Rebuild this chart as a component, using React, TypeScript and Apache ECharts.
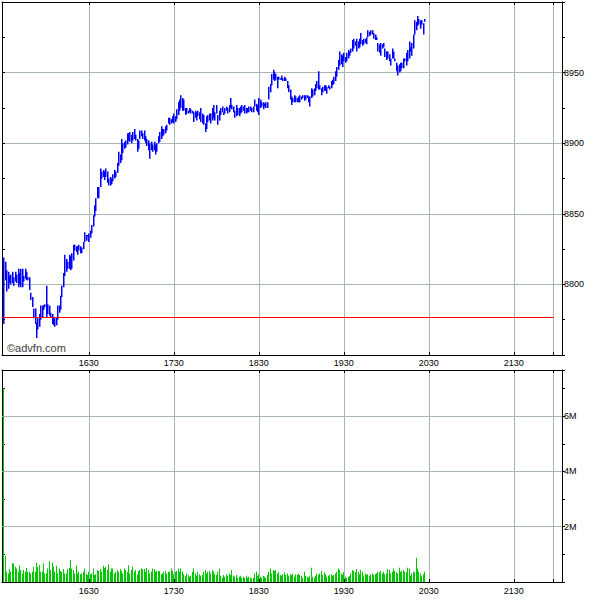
import React, { useEffect, useRef } from 'react';
import * as echarts from 'echarts';

// ---------------- data ----------------
const sessionStart = '1530'; // first bar (one bar per minute)
const xTickLabels = ['1630', '1730', '1830', '1930', '2030', '2130'];
const closeGridTime = '2158'; // unlabeled session-close grid line
const prevClose = 8777;
const priceLabels = [8800, 8850, 8900, 8950];
const volumeLabels = ['2M', '4M', '6M'];

const highs = [
  8819, 8816, 8810, 8809, 8806, 8807, 8809, 8805, 8809, 8807,
  8811, 8808, 8811, 8811, 8806, 8811, 8809, 8805, 8805, 8794,
  8791, 8783, 8783, 8773, 8776, 8779, 8785, 8785, 8785, 8786,
  8799, 8786, 8785, 8780, 8779, 8776, 8776, 8777, 8785, 8785,
  8792, 8799, 8808, 8821, 8818, 8816, 8821, 8820, 8822, 8828,
  8828, 8827, 8827, 8828, 8827, 8826, 8830, 8837, 8835, 8835,
  8836, 8838, 8842, 8849, 8856, 8861, 8869, 8869, 8882, 8880,
  8881, 8880, 8882, 8880, 8875, 8876, 8875, 8878, 8881, 8880,
  8886, 8894, 8892, 8903, 8900, 8901, 8902, 8907, 8907, 8908,
  8906, 8908, 8910, 8906, 8903, 8902, 8909, 8909, 8907, 8909,
  8905, 8903, 8902, 8900, 8901, 8899, 8901, 8899, 8900, 8905,
  8908, 8912, 8910, 8910, 8912, 8913, 8918, 8918, 8917, 8919,
  8921, 8919, 8924, 8929, 8931, 8934, 8932, 8931, 8925, 8925,
  8923, 8925, 8924, 8923, 8922, 8923, 8922, 8923, 8922, 8925,
  8921, 8920, 8914, 8919, 8920, 8921, 8921, 8925, 8927, 8922,
  8927, 8920, 8923, 8925, 8926, 8922, 8925, 8926, 8925, 8927,
  8932, 8927, 8926, 8923, 8927, 8925, 8925, 8926, 8927, 8926,
  8927, 8925, 8925, 8926, 8926, 8925, 8926, 8931, 8928, 8927,
  8932, 8931, 8929, 8929, 8928, 8929, 8929, 8940, 8942, 8949,
  8952, 8950, 8949, 8947, 8947, 8946, 8948, 8946, 8947, 8946,
  8944, 8941, 8938, 8933, 8932, 8934, 8933, 8932, 8933, 8934,
  8933, 8934, 8934, 8934, 8934, 8933, 8933, 8939, 8938, 8939,
  8942, 8944, 8951, 8941, 8939, 8940, 8941, 8941, 8940, 8941,
  8940, 8944, 8945, 8947, 8951, 8954, 8959, 8965, 8963, 8962,
  8964, 8961, 8964, 8966, 8965, 8967, 8973, 8974, 8972, 8974,
  8972, 8974, 8978, 8973, 8974, 8974, 8975, 8980, 8979, 8980,
  8980, 8978, 8977, 8975, 8971, 8970, 8971, 8970, 8971, 8967,
  8965, 8965, 8963, 8960, 8967, 8965, 8960, 8957, 8955, 8956,
  8957, 8957, 8960, 8960, 8964, 8966, 8972, 8968, 8971, 8977,
  8987, 8986, 8990, 8988, 8987, 8987, 8985, 8988,
];

const lows = [
  8772, 8803, 8795, 8797, 8801, 8800, 8801, 8799, 8802, 8801,
  8798, 8800, 8798, 8798, 8802, 8804, 8803, 8803, 8796, 8789,
  8784, 8776, 8772, 8762, 8768, 8770, 8775, 8777, 8782, 8784,
  8777, 8779, 8778, 8777, 8772, 8771, 8770, 8771, 8775, 8780,
  8782, 8791, 8798, 8806, 8809, 8811, 8811, 8810, 8811, 8817,
  8824, 8823, 8821, 8824, 8822, 8822, 8825, 8830, 8831, 8834,
  8830, 8833, 8836, 8841, 8848, 8852, 8861, 8861, 8869, 8875,
  8876, 8874, 8876, 8872, 8870, 8870, 8871, 8873, 8875, 8876,
  8879, 8884, 8886, 8888, 8893, 8896, 8897, 8899, 8902, 8901,
  8900, 8902, 8903, 8902, 8894, 8896, 8903, 8905, 8903, 8902,
  8900, 8898, 8895, 8889, 8895, 8894, 8895, 8892, 8894, 8900,
  8901, 8903, 8905, 8906, 8907, 8909, 8914, 8913, 8914, 8915,
  8914, 8915, 8917, 8920, 8923, 8925, 8923, 8923, 8920, 8921,
  8921, 8922, 8921, 8921, 8915, 8918, 8916, 8919, 8917, 8915,
  8914, 8913, 8908, 8910, 8915, 8916, 8914, 8916, 8918, 8916,
  8921, 8913, 8916, 8920, 8922, 8920, 8921, 8923, 8921, 8922,
  8925, 8924, 8922, 8918, 8919, 8920, 8919, 8921, 8922, 8923,
  8921, 8921, 8922, 8922, 8923, 8922, 8922, 8926, 8923, 8922,
  8920, 8925, 8926, 8924, 8926, 8925, 8925, 8931, 8936, 8941,
  8945, 8944, 8945, 8939, 8945, 8945, 8945, 8944, 8944, 8944,
  8939, 8936, 8931, 8927, 8929, 8929, 8929, 8929, 8929, 8929,
  8931, 8932, 8930, 8931, 8932, 8929, 8926, 8932, 8933, 8934,
  8937, 8939, 8938, 8938, 8934, 8936, 8937, 8937, 8935, 8939,
  8938, 8939, 8941, 8942, 8944, 8947, 8952, 8955, 8956, 8954,
  8958, 8957, 8958, 8960, 8962, 8964, 8965, 8967, 8969, 8965,
  8967, 8968, 8970, 8969, 8970, 8971, 8970, 8975, 8976, 8977,
  8977, 8974, 8973, 8973, 8965, 8964, 8962, 8967, 8968, 8961,
  8959, 8960, 8958, 8955, 8960, 8960, 8958, 8951, 8948, 8950,
  8951, 8953, 8953, 8958, 8955, 8958, 8960, 8965, 8962, 8967,
  8977, 8980, 8983, 8984, 8981, 8984, 8977, 8986,
];

// volume per minute, in millions
const volumesM = [
  7.03, 0.94, 0.37, 0.31, 0.47, 0.37, 0.68, 0.68, 0.55, 0.49,
  0.37, 0.61, 0.43, 0.31, 0.43, 0.37, 0.51, 0.37, 0.37, 0.31,
  0.37, 0.55, 0.37, 0.71, 0.55, 0.61, 0.37, 0.37, 0.68, 0.31,
  0.31, 0.49, 0.76, 0.43, 0.71, 0.55, 0.37, 0.59, 0.31, 0.49,
  0.40, 0.37, 0.47, 0.31, 0.31, 0.47, 0.51, 0.79, 0.49, 0.43,
  0.31, 0.61, 0.31, 0.37, 0.28, 0.31, 0.37, 0.49, 0.31, 0.25,
  0.37, 0.28, 0.31, 0.49, 0.25, 0.28, 0.43, 0.40, 0.47, 0.37,
  0.59, 0.51, 0.55, 0.43, 0.64, 0.37, 0.49, 0.49, 0.31, 0.37,
  0.43, 0.37, 0.47, 0.40, 0.31, 0.49, 0.43, 0.37, 0.61, 0.31,
  0.43, 0.55, 0.37, 0.43, 0.28, 0.40, 0.43, 0.49, 0.47, 0.47,
  0.37, 0.51, 0.43, 0.31, 0.37, 0.49, 0.47, 0.37, 0.40, 0.40,
  0.40, 0.28, 0.31, 0.37, 0.40, 0.31, 0.37, 0.37, 0.49, 0.40,
  0.28, 0.37, 0.40, 0.49, 0.37, 0.49, 0.37, 0.28, 0.23, 0.31,
  0.25, 0.19, 0.23, 0.37, 0.49, 0.31, 0.23, 0.37, 0.28, 0.23,
  0.25, 0.37, 0.43, 0.31, 0.37, 0.40, 0.31, 0.43, 0.37, 0.28,
  0.25, 0.37, 0.49, 0.23, 0.15, 0.25, 0.19, 0.28, 0.23, 0.31,
  0.25, 0.43, 0.23, 0.19, 0.25, 0.15, 0.19, 0.23, 0.15, 0.19,
  0.15, 0.23, 0.15, 0.19, 0.15, 0.13, 0.15, 0.31, 0.37, 0.23,
  0.28, 0.19, 0.15, 0.23, 0.19, 0.15, 0.25, 0.37, 0.49, 0.31,
  0.43, 0.40, 0.43, 0.31, 0.37, 0.25, 0.23, 0.28, 0.35, 0.25,
  0.31, 0.23, 0.28, 0.25, 0.31, 0.19, 0.28, 0.25, 0.31, 0.25,
  0.23, 0.15, 0.37, 0.23, 0.19, 0.15, 0.23, 0.52, 0.19, 0.15,
  0.23, 0.31, 0.25, 0.31, 0.40, 0.25, 0.35, 0.28, 0.19, 0.23,
  0.25, 0.28, 0.23, 0.25, 0.31, 0.37, 0.49, 0.43, 0.31, 0.25,
  0.35, 0.19, 0.15, 0.19, 0.23, 0.31, 0.43, 0.40, 0.35, 0.47,
  0.37, 0.28, 0.43, 0.37, 0.23, 0.31, 0.25, 0.28, 0.23, 0.28,
  0.31, 0.25, 0.28, 0.31, 0.37, 0.35, 0.40, 0.31, 0.37, 0.28,
  0.31, 0.47, 0.43, 0.31, 0.37, 0.49, 0.40, 0.35, 0.31, 0.52,
  0.37, 0.40, 0.43, 0.37, 0.35, 0.52, 0.49, 0.23, 0.31, 0.37,
  0.35, 0.88, 0.49, 0.37, 0.31, 0.23, 0.28, 0.37,
];

// ---------------- helpers ----------------
const toMin = (hhmm: string) => Number(hhmm.slice(0, 2)) * 60 + Number(hhmm.slice(2));
const offsetOf = (hhmm: string) => toMin(hhmm) - toMin(sessionStart);
const fmtOffset = (m: number) => {
  const t = toMin(sessionStart) + Math.round(m);
  return String(Math.floor(t / 60)).padStart(2, '0') + String(t % 60).padStart(2, '0');
};

const tickOffsets = xTickLabels.map(offsetOf);
const gridOffsets = [...tickOffsets, offsetOf(closeGridTime)];

const X_MIN = -1.3;
const X_MAX = 394;
const PRICE_MIN = 8750;
const PRICE_MAX = 9000;
const VOL_MAX = 7.67;

const FONT = '"Liberation Sans", Arial, sans-serif';
const labelFont = { fontFamily: FONT, fontSize: 9, color: '#000' };
const gridLineStyle = { color: '#a9b6b6', width: 1, type: 'solid' as const };
const black = { color: '#000', width: 1 };

function xAxisDef(gridIndex: number, position: 'top' | 'bottom', withLabels: boolean, margin: number) {
  return {
    type: 'value',
    gridIndex,
    position,
    min: X_MIN,
    max: X_MAX,
    axisLine: { show: true, onZero: false, lineStyle: black },
    axisTick: { show: true, inside: true, length: 3, customValues: gridOffsets, lineStyle: black },
    axisLabel: {
      show: withLabels,
      customValues: tickOffsets,
      formatter: (v: number) => fmtOffset(v),
      margin,
      ...labelFont,
    },
    splitLine: { show: position === 'bottom', lineStyle: gridLineStyle },
  };
}

function yAxisDef(gridIndex: number, position: 'left' | 'right', isPrice: boolean) {
  const right = position === 'right';
  return {
    type: 'value',
    gridIndex,
    position,
    min: isPrice ? PRICE_MIN : 0,
    max: isPrice ? PRICE_MAX : VOL_MAX,
    interval: isPrice ? 50 : 1,
    axisLine: { show: true, onZero: false, lineStyle: black },
    axisTick: { show: true, inside: !right, length: 3, lineStyle: black },
    minorTick: { show: isPrice, splitNumber: 2, length: 3, lineStyle: black },
    axisLabel: {
      show: right,
      margin: 2,
      formatter: (v: number) =>
        isPrice
          ? priceLabels.includes(v) ? String(v) : ''
          : volumeLabels.includes(v + 'M') ? v + 'M' : '',
      ...labelFont,
    },
    splitLine: {
      show: isPrice && right,
      showMinLine: false,
      showMaxLine: false,
      lineStyle: gridLineStyle,
    },
  };
}

const option: any = {
  animation: false,
  backgroundColor: '#ffffff',
  grid: [
    { left: 2, top: 2, width: 560, height: 353 },
    { left: 2, top: 370, width: 560, height: 212 },
  ],
  xAxis: [
    xAxisDef(0, 'bottom', true, 3),
    xAxisDef(0, 'top', false, 3),
    xAxisDef(1, 'bottom', true, 4),
    xAxisDef(1, 'top', false, 3),
  ],
  yAxis: [
    yAxisDef(0, 'right', true),
    yAxisDef(0, 'left', true),
    yAxisDef(1, 'right', false),
    yAxisDef(1, 'left', false),
  ],
  graphic: [
    {
      type: 'text',
      left: 7,
      top: 342,
      z: 10,
      style: { text: '©advfn.com', fontSize: 11, fontFamily: FONT, fill: '#3c3c3c' },
    },
  ],
  series: [
    {
      type: 'custom',
      name: 'Price',
      xAxisIndex: 0,
      yAxisIndex: 0,
      clip: true,
      z: 3,
      data: highs.map((h, i) => [i, lows[i], h]),
      encode: { x: 0, y: [1, 2] },
      renderItem: (_params: any, api: any) => {
        const lo = api.coord([api.value(0), api.value(1)]);
        const hi = api.coord([api.value(0), api.value(2)]);
        const x = Math.floor(lo[0]);
        return {
          type: 'rect',
          shape: { x, y: hi[1], width: 1.5, height: Math.max(1, lo[1] - hi[1]) },
          style: { fill: '#0000ff' },
        };
      },
      markLine: {
        silent: true,
        symbol: ['none', 'none'],
        label: { show: false },
        lineStyle: { color: '#ff0000', width: 1, type: 'solid' },
        data: [[{ coord: [X_MIN, prevClose] }, { coord: [offsetOf(closeGridTime), prevClose] }]],
      },
    },
    {
      type: 'custom',
      name: 'Volume',
      xAxisIndex: 2,
      yAxisIndex: 2,
      clip: true,
      z: 3,
      data: volumesM.map((v, i) => [i, v]),
      encode: { x: 0, y: 1 },
      renderItem: (_params: any, api: any) => {
        const top = api.coord([api.value(0), api.value(1)]);
        const base = api.coord([api.value(0), 0]);
        const x = Math.floor(top[0]);
        return {
          type: 'rect',
          shape: { x, y: top[1], width: 1, height: base[1] - top[1] },
          style: { fill: '#00c800' },
        };
      },
      markLine: {
        silent: true,
        symbol: ['none', 'none'],
        label: { show: false },
        lineStyle: gridLineStyle,
        z: 1,
        data: volumeLabels.map((l) => ({ yAxis: parseFloat(l) })),
      },
    },
  ],
};

export default function App() {
  const ref = useRef<HTMLDivElement>(null);
  useEffect(() => {
    if (!ref.current) return;
    const chart = echarts.init(ref.current, undefined, { renderer: 'svg' });
    chart.setOption(option);
    return () => chart.dispose();
  }, []);
  return (
    <div
      ref={ref}
      style={{ position: 'absolute', left: 0, top: 0, width: 600, height: 600, background: '#fff' }}
    />
  );
}
